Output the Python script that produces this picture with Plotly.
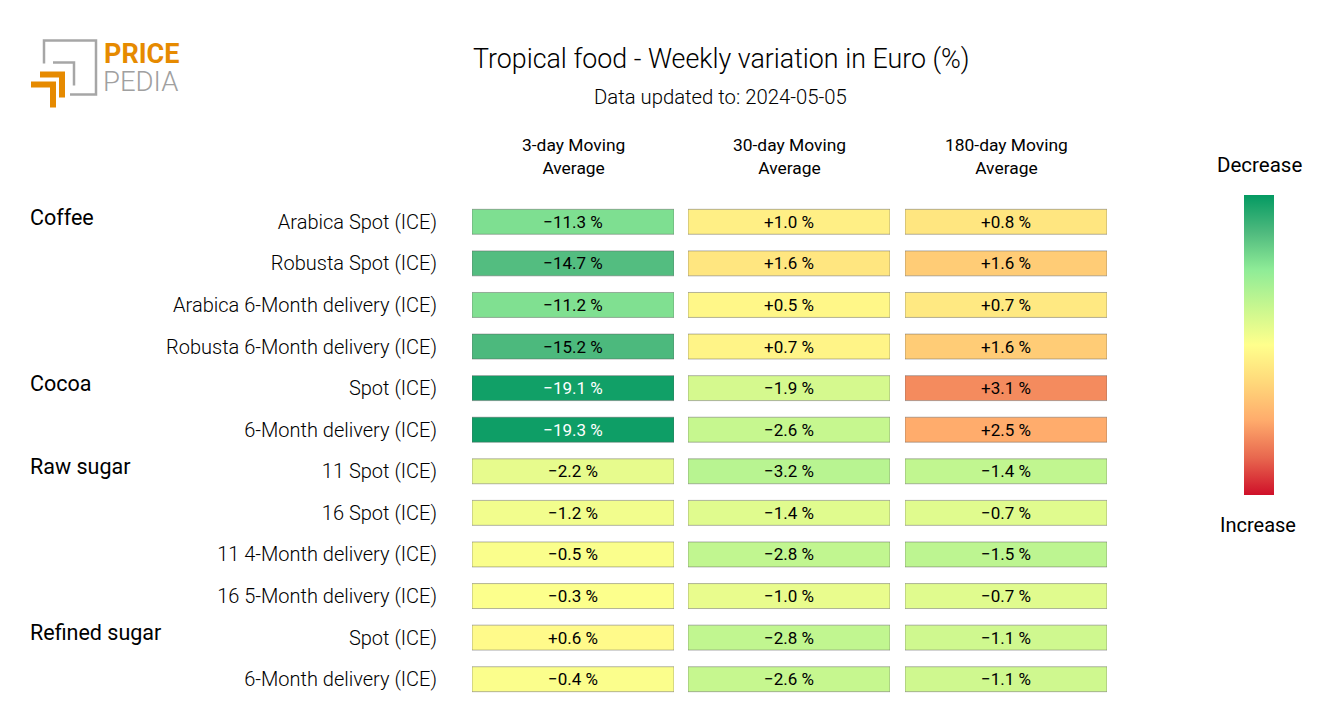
import plotly.graph_objects as go

groups = ["Coffee", "Cocoa", "Raw sugar", "Refined sugar"]
group_rows = [0, 4, 6, 10]
products = ["Arabica Spot (ICE)", "Robusta Spot (ICE)", "Arabica 6-Month delivery (ICE)",
            "Robusta 6-Month delivery (ICE)", "Spot (ICE)", "6-Month delivery (ICE)",
            "11 Spot (ICE)", "16 Spot (ICE)", "11 4-Month delivery (ICE)",
            "16 5-Month delivery (ICE)", "Spot (ICE)", "6-Month delivery (ICE)"]
columns = ["3-day Moving<br>Average", "30-day Moving<br>Average", "180-day Moving<br>Average"]
ma3 = [-11.3, -14.7, -11.2, -15.2, -19.1, -19.3, -2.2, -1.2, -0.5, -0.3, 0.6, -0.4]
ma30 = [1.0, 1.6, 0.5, 0.7, -1.9, -2.6, -3.2, -1.4, -2.8, -1.0, -2.8, -2.6]
ma180 = [0.8, 1.6, 0.7, 1.6, 3.1, 2.5, -1.4, -0.7, -1.5, -0.7, -1.1, -1.1]
series = [ma3, ma30, ma180]
colour_limits = [20, 10, 5]

scale = [[0, "#cf1029"], [0.125, "#e8684f"], [0.25, "#ffac6c"], [0.375, "#ffd87a"], [0.5, "#ffff8c"],
         [0.625, "#c8f78f"], [0.75, "#8fec97"], [0.875, "#4fba7e"], [1, "#049a62"]]

W, H = 1320, 720
L, R, T, B = 472, 1107, 200.7, 700.2
PW = R - L
edges = [(472, 674), (688, 890), (905, 1107)]
FONT = "Roboto"

fig = go.Figure()
rows = list(range(len(products)))
for i, vals in enumerate(series):
    lim = colour_limits[i]
    fig.add_trace(go.Bar(
        y=rows, x=[1] * len(vals), base=0, orientation="h", width=0.6,
        xaxis="x" if i == 0 else f"x{i+1}", yaxis="y",
        marker=dict(color=[-v for v in vals], colorscale=scale, cmin=-lim, cmax=lim,
                    line=dict(color="rgba(90,90,90,0.45)", width=1),
                    showscale=i == 0,
                    colorbar=dict(xref="container", yref="container", x=1244 / W, xanchor="left", xpad=0,
                                  y=1 - 281 / H, yanchor="top", ypad=0, lenmode="pixels", len=300,
                                  thickness=30, outlinewidth=0, showticklabels=False, ticks="") if i == 0 else None),
        text=[f"{v:+.1f} %".replace("-", "\u2212") for v in vals],
        textposition="inside", insidetextanchor="middle", textangle=0, constraintext="none",
        textfont=dict(size=17, family=FONT,
                      color=["white" if abs(v) / lim > 0.93 else "black" for v in vals]),
        hoverinfo="skip", showlegend=False))

layout_axes = {}
for i, (a, b) in enumerate(edges):
    key = "xaxis" if i == 0 else f"xaxis{i+1}"
    layout_axes[key] = dict(domain=[(a - L) / PW, (b - L) / PW], range=[0, 1], visible=False,
                            anchor="y", fixedrange=True)

annotations = []
def text(x, y, s, size, anchor="center", color="black", weight=400):
    annotations.append(dict(xref="paper", yref="paper", x=(x - L) / PW, y=(B - y) / (B - T),
                            text=s, showarrow=False, xanchor=anchor, yanchor="middle",
                            font=dict(size=size, color=color, family=FONT, weight=weight), align="center"))

text(721.5, 59, "Tropical food - Weekly variation in Euro (%)", 26.8, weight=300)
text(720.5, 97, "Data updated to: 2024-05-05", 20.3, weight=300)
for (a, b), c in zip(edges, columns):
    text((a + b) / 2, 156, c, 17.4)
for g, r in zip(groups, group_rows):
    text(28, 217 + r * 41.55, g, 21.5, "left")
text(1259, 165, "Decrease", 20.5)
text(1258, 525, "Increase", 20)
text(102, 54, "<b>PRICE</b>", 27, "left", "#e68a00")
text(101, 81, "PEDIA", 27.5, "left", "#a0a0a0", weight=300)

def px(x, y):
    return ((x - L) / PW, (B - y) / (B - T))

def line(pts, color, w):
    path = "M " + " L ".join("{},{}".format(*px(*p)) for p in pts)
    return dict(type="path", xref="paper", yref="paper", path=path, line=dict(color=color, width=w))

shapes = [line(pts, col, w) for pts, col, w in [
    ([(44, 63), (44, 40), (96, 40), (96, 94), (70, 94)], "#a6a6a6", 2.5),
    ([(53, 62), (74, 62), (74, 85)], "#a6a6a6", 2.5),
    ([(40, 74), (62, 74), (62, 97)], "#e68a00", 6),
    ([(31, 84), (53, 84), (53, 107)], "#e68a00", 6),
]]

fig.update_layout(
    width=W, height=H, margin=dict(l=L, r=W - R, t=T, b=H - B, pad=0, autoexpand=False),
    paper_bgcolor="white", plot_bgcolor="white", font=dict(family=FONT),
    barmode="overlay", annotations=annotations, shapes=shapes,
    yaxis=dict(range=[len(products) - 0.5, -0.5], tickmode="array", tickvals=rows, ticktext=products,
               showgrid=False, zeroline=False, showline=False, ticks="", ticklabelstandoff=34,
               tickfont=dict(size=20, family=FONT, color="black", weight=300), fixedrange=True, anchor="x"),
    **layout_axes)

fig.write_html("out.html", config=dict(displayModeBar=False),
               post_script="document.body.style.margin='0';")
